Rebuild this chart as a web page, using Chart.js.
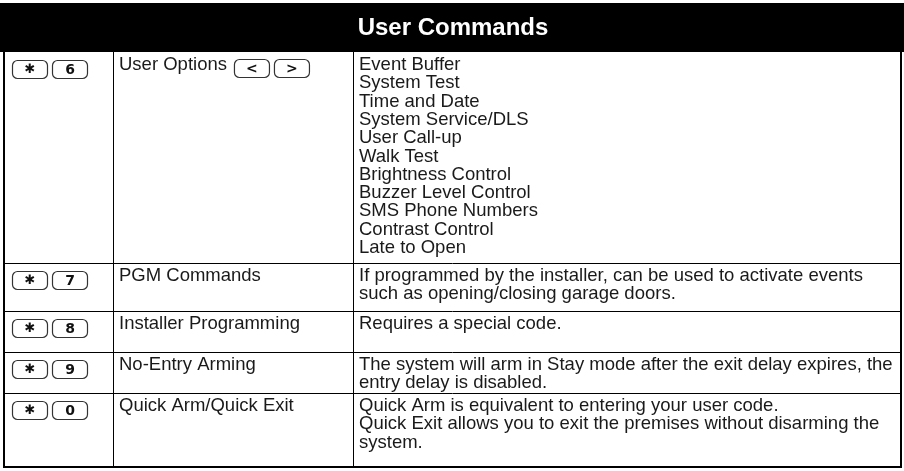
<!DOCTYPE html>
<html><head><meta charset="utf-8">
<script src="https://cdn.jsdelivr.net/npm/chart.js@4"></script>
<style>html,body{margin:0;padding:0;background:#fff;overflow:hidden}</style>
</head><body>
<canvas id="c" width="904" height="471"></canvas>
<script>
// ---- data ----
const title = "User Commands";
const keyLabels = [["✱","6"],["✱","7"],["✱","8"],["✱","9"],["✱","0"]];
const commands = ["User Options","PGM Commands","Installer Programming","No-Entry Arming","Quick Arm/Quick Exit"];
const commandKeys = [["<",">"],[],[],[],[]];
const descriptions = [
  ["Event Buffer","System Test","Time and Date","System Service/DLS","User Call-up","Walk Test","Brightness Control","Buzzer Level Control","SMS Phone Numbers","Contrast Control","Late to Open"],
  ["If programmed by the installer, can be used to activate events","such as opening/closing garage doors."],
  ["Requires a special code."],
  ["The system will arm in Stay mode after the exit delay expires, the","entry delay is disabled."],
  ["Quick Arm is equivalent to entering your user code.","Quick Exit allows you to exit the premises without disarming the","system."]
];

// ---- layout (positions in scale units) ----
const LAYOUT = {
  header: [3, 52],
  cols: [4, 113, 353, 901],
  rows: [52, 263, 311, 352, 393, 467],
  lineStep: 18.3,
  firstBaseline: 18,
  textPad: 6
};
const FONT = '"Liberation Sans", Arial, sans-serif';
const BODY_FONT = '18.5px ' + FONT;

const tablePlugin = {
  id: 'tablePlugin',
  afterDraw(chart) {
    const ctx = chart.ctx, xs = chart.scales.x, ys = chart.scales.y;
    const X = v => xs.getPixelForValue(v), Y = v => ys.getPixelForValue(v);
    const L = LAYOUT;
    ctx.save();
    // header
    ctx.fillStyle = '#000';
    ctx.fillRect(X(0), Y(L.header[0]), X(904) - X(0), Y(L.header[1]) - Y(L.header[0]));
    ctx.fillStyle = '#fff';
    ctx.font = 'bold 24px ' + FONT;
    ctx.textAlign = 'center';
    ctx.textBaseline = 'middle';
    ctx.fillText(title, X(453), Y((L.header[0] + L.header[1]) / 2 + 1));

    // grid lines
    ctx.strokeStyle = '#000';
    ctx.lineWidth = 1;
    const top = Y(L.rows[0]), bot = Y(L.rows[L.rows.length - 1]);
    for (let i = 1; i < L.rows.length - 1; i++) {
      const y = Math.round(Y(L.rows[i])) + 0.5;
      ctx.beginPath(); ctx.moveTo(X(L.cols[0]), y); ctx.lineTo(X(L.cols[3]), y); ctx.stroke();
    }
    for (let j = 1; j < L.cols.length - 1; j++) {
      const x = Math.round(X(L.cols[j])) + 0.5;
      ctx.beginPath(); ctx.moveTo(x, top); ctx.lineTo(x, bot); ctx.stroke();
    }
    ctx.lineWidth = 2;
    ctx.beginPath();
    ctx.moveTo(X(L.cols[0]), top); ctx.lineTo(X(L.cols[0]), bot);
    ctx.lineTo(X(L.cols[3]), bot); ctx.lineTo(X(L.cols[3]), top);
    ctx.stroke();

    const drawKey = (x, y, label) => {
      const w = 35, h = 18, r = 5;
      ctx.lineWidth = 1.2;
      ctx.strokeStyle = '#333';
      ctx.fillStyle = '#fff';
      ctx.beginPath();
      ctx.roundRect(x + 0.5, y + 0.5, w, h, r);
      ctx.fill(); ctx.stroke();
      ctx.fillStyle = '#111';
      ctx.textAlign = 'center';
      ctx.textBaseline = 'middle';
      if (label === '✱') ctx.font = 'bold 13px "DejaVu Sans", sans-serif';
      else ctx.font = 'bold 14px "DejaVu Sans", sans-serif';
      ctx.fillText(label, x + w / 2 + 0.5, y + h / 2 + 1);
    };

    for (let r = 0; r < commands.length; r++) {
      const rt = L.rows[r];
      // keys column
      keyLabels[r].forEach((k, i) => drawKey(X(L.cols[0] + 8 + i * 40), Y(rt + 8), k));
      // command
      ctx.font = BODY_FONT;
      ctx.fillStyle = '#1a1a1a';
      ctx.textAlign = 'left';
      ctx.textBaseline = 'alphabetic';
      const cx = X(L.cols[1] + L.textPad);
      const by = Y(rt + L.firstBaseline);
      ctx.fillText(commands[r], cx, by);
      let ex = cx + ctx.measureText(commands[r]).width + 7;
      commandKeys[r].forEach((k, i) => drawKey(ex + i * 40, Y(rt + 7), k));
      // descriptions
      ctx.font = BODY_FONT;
      ctx.fillStyle = '#1a1a1a';
      ctx.textAlign = 'left';
      ctx.textBaseline = 'alphabetic';
      descriptions[r].forEach((line, i) => {
        ctx.fillText(line, X(L.cols[2] + L.textPad), Y(rt + L.firstBaseline + i * L.lineStep));
      });
    }
    ctx.restore();
  }
};

new Chart(document.getElementById('c'), {
  type: 'scatter',
  data: { datasets: [{ data: [] }] },
  options: {
    responsive: false,
    devicePixelRatio: 1,
    animation: false,
    layout: { padding: 0 },
    scales: {
      x: { type: 'linear', min: 0, max: 904, display: false },
      y: { type: 'linear', min: 0, max: 471, reverse: true, display: false }
    },
    plugins: { legend: { display: false }, tooltip: { enabled: false } }
  },
  plugins: [tablePlugin]
});
</script>
</body></html>
